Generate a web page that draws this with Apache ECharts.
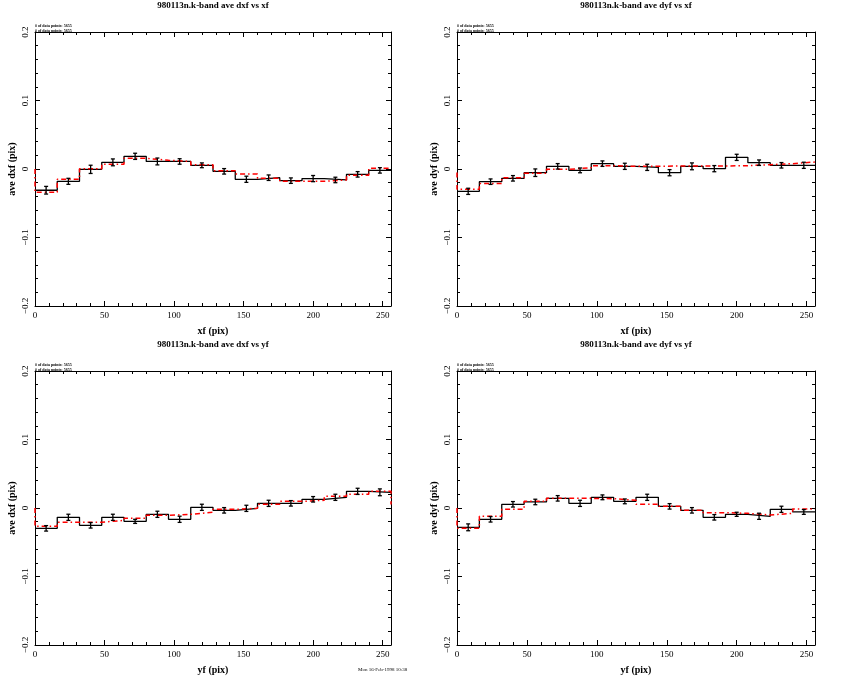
<!DOCTYPE html>
<html><head><meta charset="utf-8">
<script src="https://cdn.jsdelivr.net/npm/echarts@6/dist/echarts.min.js"></script>
<style>html,body{margin:0;padding:0;background:#fff}#c{width:850px;height:680px}</style>
</head><body><div id="c"></div>
<script>
const binEdges = [0,16,32,48,64,80,96,112,128,144,160,176,192,208,224,240,256];
const xTicks = ['0','50','100','150','200','250'];
const yTicks = ['0.2','0.1','0','\u22120.1','\u22120.2'];

const titles = ['980113n.k-band ave dxf vs xf','980113n.k-band ave dyf vs xf','980113n.k-band ave dxf vs yf','980113n.k-band ave dyf vs yf'];
const xNames = ['xf (pix)','xf (pix)','yf (pix)','yf (pix)'];
const yNames = ['ave dxf (pix)','ave dyf (pix)','ave dxf (pix)','ave dyf (pix)'];

const dxfXfData = [-0.031,-0.018,-0.0005,0.0097,0.0185,0.011,0.011,0.0054,-0.0034,-0.015,-0.0127,-0.017,-0.014,-0.016,-0.0078,-0.002];
const dxfXfErr  = [0.0056,0.0044,0.006,0.005,0.0045,0.005,0.004,0.0035,0.004,0.0045,0.004,0.004,0.0045,0.004,0.004,0.004];
const dxfXfModel = [-0.034,-0.015,0.0005,0.007,0.0156,0.0127,0.011,0.0063,-0.0024,-0.0073,-0.0136,-0.018,-0.018,-0.016,-0.0092,0.001];
const dxfXfEnds = [0,0.001];

const dyfXfData = [-0.0326,-0.0185,-0.0136,-0.0054,0.0039,-0.002,0.0078,0.0039,0.0024,-0.0054,0.0039,0.0005,0.017,0.0092,0.0054,0.0054];
const dyfXfErr  = [0.0045,0.004,0.004,0.0055,0.004,0.0035,0.004,0.0045,0.0045,0.0045,0.005,0.0045,0.0045,0.004,0.004,0.0045];
const dyfXfModel = [-0.0297,-0.021,-0.0127,-0.0063,-0.0005,0.0019,0.0049,0.0039,0.0039,0.0044,0.0044,0.0044,0.0049,0.0063,0.0078,0.0102];
const dyfXfEnds = [-0.005,0.0102];

const dxfYfData = [-0.0297,-0.0136,-0.0253,-0.0136,-0.0195,-0.0092,-0.0165,0.001,-0.0034,-0.0005,0.0068,0.0068,0.0127,0.0156,0.0243,0.0229];
const dxfYfErr  = [0.004,0.0045,0.004,0.0045,0.003,0.0045,0.0045,0.0045,0.004,0.0045,0.0045,0.004,0.004,0.0045,0.0045,0.005];
const dxfYfModel = [-0.0268,-0.0209,-0.0209,-0.018,-0.015,-0.0107,-0.0092,-0.0063,-0.0019,-0.0005,0.0054,0.0097,0.0112,0.017,0.02,0.0243];
const dxfYfEnds = [0,0.005];

const dyfYfData = [-0.0282,-0.0165,0.0054,0.0088,0.0141,0.0068,0.0156,0.0097,0.0156,0.0024,-0.0034,-0.0136,-0.0092,-0.0121,-0.0019,-0.0058];
const dyfYfErr  = [0.005,0.004,0.004,0.004,0.004,0.0045,0.0035,0.0035,0.0045,0.004,0.004,0.004,0.003,0.0045,0.0045,0.0035];
const dyfYfModel = [-0.0297,-0.0121,-0.0019,0.0097,0.0141,0.0141,0.0136,0.0112,0.0054,0.0024,-0.0034,-0.0068,-0.0078,-0.0102,-0.0078,-0.0015];
const dyfYfEnds = [0,-0.0015];

const panels = [
  {data:dxfXfData, err:dxfXfErr, model:dxfXfModel, ends:dxfXfEnds},
  {data:dyfXfData, err:dyfXfErr, model:dyfXfModel, ends:dyfXfEnds},
  {data:dxfYfData, err:dxfYfErr, model:dxfYfModel, ends:dxfYfEnds},
  {data:dyfYfData, err:dyfYfErr, model:dyfYfModel, ends:dyfYfEnds}
];

const grids = [
  {left:35, top:32, width:356, height:274},
  {left:457, top:32, width:358, height:274},
  {left:35, top:371, width:356, height:274},
  {left:457, top:371, width:358, height:274}
];

const font = 'Liberation Serif';
const chart = echarts.init(document.getElementById('c'));

const xAxis = [], yAxis = [], series = [], title = [], graphic = [];
grids.forEach((g, i) => {
  const common = {
    gridIndex:i, type:'value', min:0, max:256, interval:50,
    axisLine:{show:true, onZero:false, lineStyle:{color:'#000', width:1}},
    axisTick:{show:true, inside:true, length:5, lineStyle:{color:'#000'}},
    minorTick:{show:true, splitNumber:5, length:3, lineStyle:{color:'#000'}},
    splitLine:{show:false}, minorSplitLine:{show:false}
  };
  xAxis.push(Object.assign({}, common, {
    position:'bottom', name:xNames[i], nameLocation:'middle', nameGap:20,
    nameTextStyle:{fontFamily:font, fontSize:10, fontWeight:'bold', color:'#000'},
    axisLabel:{show:true, margin:5, fontFamily:font, fontSize:9, color:'#000',
      formatter:(v)=>{const k=xTicks.indexOf(String(v)); return k>=0?xTicks[k]:'';}}
  }));
  xAxis.push(Object.assign({}, common, {position:'top', axisLabel:{show:false}}));
  const ycommon = {
    gridIndex:i, type:'value', min:-0.2, max:0.2, interval:0.1,
    axisLine:{show:true, onZero:false, lineStyle:{color:'#000', width:1}},
    axisTick:{show:true, inside:true, length:5, lineStyle:{color:'#000'}},
    minorTick:{show:true, splitNumber:5, length:3, lineStyle:{color:'#000'}},
    splitLine:{show:false}, minorSplitLine:{show:false}
  };
  yAxis.push(Object.assign({}, ycommon, {
    position:'left', name:yNames[i], nameLocation:'middle', nameGap:18, nameRotate:90,
    nameTextStyle:{fontFamily:font, fontSize:10, fontWeight:'bold', color:'#000'},
    axisLabel:{show:true, rotate:90, margin:5, fontFamily:font, fontSize:9, color:'#000',
      formatter:(v)=>{const idx=Math.round((0.2-v)/0.1); return yTicks[idx]!==undefined?yTicks[idx]:'';}}
  }));
  yAxis.push(Object.assign({}, ycommon, {position:'right', axisLabel:{show:false}}));

  const p = panels[i];
  const stepPts = [];
  p.data.forEach((v,k)=>{ stepPts.push([binEdges[k], v]); stepPts.push([binEdges[k+1], v]); });
  const modelPts = [[binEdges[0], p.ends[0]]];
  p.model.forEach((v,k)=>{ modelPts.push([binEdges[k], v]); modelPts.push([binEdges[k+1], v]); });
  modelPts.push([binEdges[binEdges.length-1], p.ends[1]]);
  const errPts = p.data.map((v,k)=>[(binEdges[k]+binEdges[k+1])/2, v, p.err[k]]);

  series.push({type:'line', xAxisIndex:2*i, yAxisIndex:2*i, data:stepPts, symbol:'none', silent:true,
    lineStyle:{color:'#000', width:1.3}, z:2});
  series.push({type:'line', xAxisIndex:2*i, yAxisIndex:2*i, data:modelPts, symbol:'none', silent:true,
    lineStyle:{color:'#ff0000', width:1.5, type:[5,3,1.5,3]}, z:3});
  series.push({type:'custom', xAxisIndex:2*i, yAxisIndex:2*i, data:errPts, silent:true, z:4,
    renderItem:(params, api)=>{
      const x=api.value(0), y=api.value(1), e=api.value(2);
      const top=api.coord([x, y+e]), bot=api.coord([x, y-e]);
      const s={stroke:'#000', lineWidth:1.3};
      return {type:'group', children:[
        {type:'line', shape:{x1:top[0], y1:top[1], x2:bot[0], y2:bot[1]}, style:s},
        {type:'line', shape:{x1:top[0]-2, y1:top[1], x2:top[0]+2, y2:top[1]}, style:s},
        {type:'line', shape:{x1:bot[0]-2, y1:bot[1], x2:bot[0]+2, y2:bot[1]}, style:s}
      ]};
    }});

  title.push({text:titles[i], left:g.left+g.width/2, top:g.top-31, padding:0, textAlign:'center',
    textStyle:{fontFamily:font, fontSize:9, fontWeight:'bold', color:'#000'}});
  graphic.push({type:'text', left:g.left, top:g.top-8, style:{text:'# of data points: 5655\n# of data points: 5655', fontFamily:font, fontSize:4, fontWeight:'bold', fill:'#000', lineHeight:4.5}});
});
graphic.push({type:'text', left:358, top:667, style:{text:'Mon 16-Feb-1998 10:38', fontFamily:font, fontSize:5, fill:'#000'}});

chart.setOption({animation:false, backgroundColor:'#fff', grid:grids, xAxis, yAxis, series, title, graphic});
</script></body></html>
